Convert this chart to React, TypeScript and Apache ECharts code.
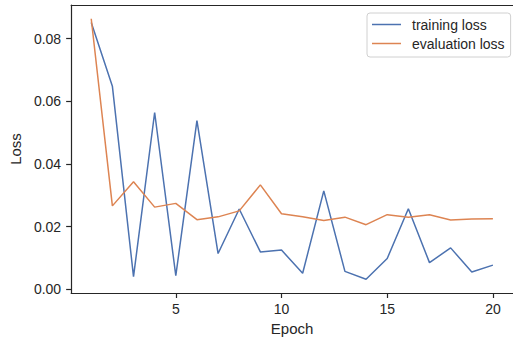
import React, { useEffect, useRef } from "react";
import * as echarts from "echarts";

const epochs = [1, 2, 3, 4, 5, 6, 7, 8, 9, 10, 11, 12, 13, 14, 15, 16, 17, 18, 19, 20];
const trainingLoss = [0.0851, 0.0648, 0.004, 0.0564, 0.0043, 0.0538, 0.0114, 0.0256, 0.0119, 0.0125, 0.0051, 0.0314, 0.0057, 0.0032, 0.0098, 0.0257, 0.0085, 0.0132, 0.0055, 0.0077];
const evalLoss = [0.0863, 0.0266, 0.0343, 0.0262, 0.0274, 0.0222, 0.0231, 0.025, 0.0333, 0.0241, 0.0231, 0.0219, 0.023, 0.0206, 0.0238, 0.023, 0.0238, 0.0221, 0.0224, 0.0225];
const xTicks = [5, 10, 15, 20];
const yTicks = [0, 0.02, 0.04, 0.06, 0.08];

const FONT = "Liberation Sans, Arial, sans-serif";
const INK = "#262626";

export default function App() {
  const ref = useRef<HTMLDivElement>(null);
  useEffect(() => {
    if (!ref.current) return;
    const chart = echarts.init(ref.current, undefined, { renderer: "svg" });
    chart.setOption({
      animation: false,
      backgroundColor: "#ffffff",
      textStyle: { fontFamily: FONT, color: INK },
      grid: {
        left: 71,
        top: 5,
        width: 446,
        bottom: 45,
        show: false,
      },
      legend: {
        orient: "vertical",
        left: 367,
        top: 13,
        icon: "rect",
        itemWidth: 29,
        itemHeight: 1.5,
        itemGap: 4,
        padding: [4, 6, 6, 5],
        backgroundColor: "rgba(255,255,255,0.8)",
        borderColor: "#d0d0d0",
        borderWidth: 1,
        borderRadius: 3,
        textStyle: { fontSize: 14, fontFamily: FONT, color: INK, lineHeight: 15, padding: [0, 0, 0, 6] },
        data: ["training loss", "evaluation loss"],
      },
      xAxis: [
        {
          type: "value",
          min: 0.05,
          max: 20.95,
          name: "Epoch",
          nameLocation: "middle",
          nameGap: 28,
          nameTextStyle: { fontSize: 15, color: INK, fontFamily: FONT },
          axisLine: { show: true, onZero: false, lineStyle: { color: INK, width: 1.2 } },
          axisTick: { show: true, length: 5, customValues: xTicks, lineStyle: { color: INK, width: 1.2 } },
          axisLabel: { customValues: xTicks, fontSize: 14, color: INK, margin: 9, fontFamily: FONT },
          splitLine: { show: false },
        },
        {
          type: "value",
          position: "top",
          min: 0.05,
          max: 20.95,
          axisLine: { show: true, onZero: false, lineStyle: { color: INK, width: 1.2 } },
          axisTick: { show: false },
          axisLabel: { show: false },
          splitLine: { show: false },
        },
      ],
      yAxis: {
        type: "value",
        min: -0.0012,
        max: 0.0907,
        name: "Loss",
        nameLocation: "middle",
        nameGap: 41,
        nameTextStyle: { fontSize: 15, color: INK, fontFamily: FONT },
        axisLine: { show: true, onZero: false, lineStyle: { color: INK, width: 1.2 } },
        axisTick: { show: true, length: 5, customValues: yTicks, lineStyle: { color: INK, width: 1.2 } },
        axisLabel: {
          customValues: yTicks,
          fontSize: 14,
          color: INK,
          margin: 10,
          fontFamily: FONT,
          formatter: (v: number) => v.toFixed(2),
        },
        splitLine: { show: false },
      },
      series: [
        {
          name: "training loss",
          type: "line",
          xAxisIndex: 0,
          data: epochs.map((e, i) => [e, trainingLoss[i]]),
          showSymbol: false,
          symbol: "none",
          lineStyle: { color: "#4c72b0", width: 1.5 },
          itemStyle: { color: "#4c72b0" },
        },
        {
          name: "evaluation loss",
          type: "line",
          xAxisIndex: 0,
          data: epochs.map((e, i) => [e, evalLoss[i]]),
          showSymbol: false,
          symbol: "none",
          lineStyle: { color: "#dd8452", width: 1.5 },
          itemStyle: { color: "#dd8452" },
        },
      ],
    });
    return () => chart.dispose();
  }, []);
  return <div ref={ref} style={{ width: 513, height: 341, position: "fixed", left: 0, top: 0 }} />;
}
